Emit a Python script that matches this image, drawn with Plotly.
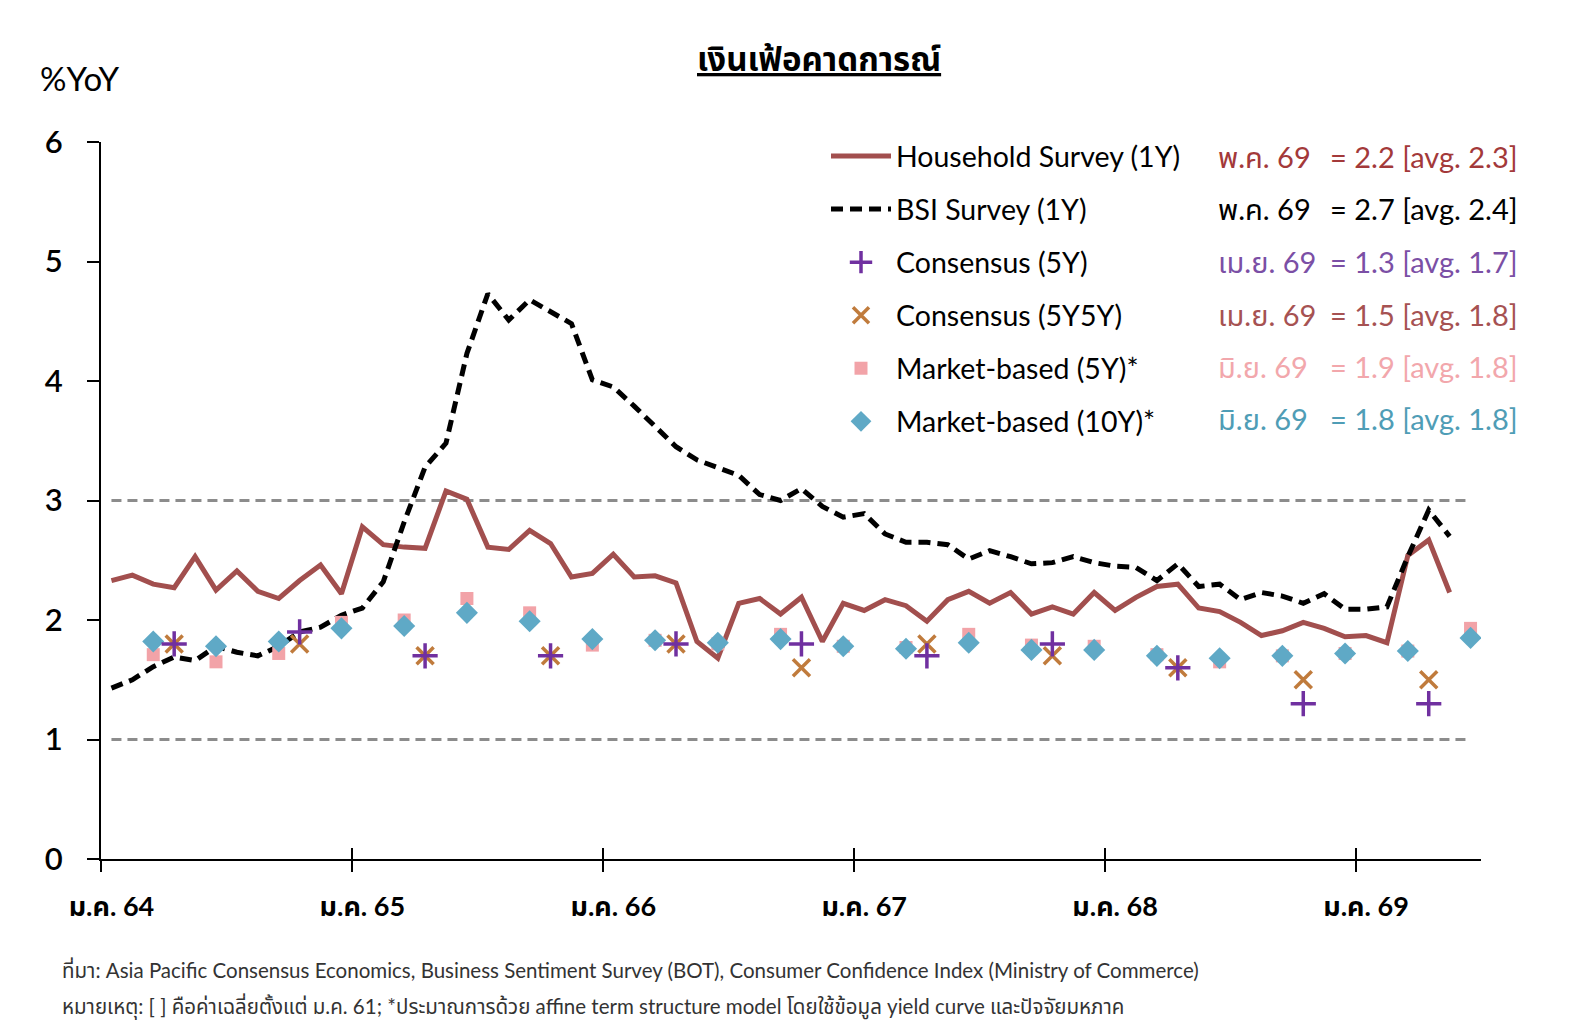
import plotly.graph_objects as go

# ---------------- data ----------------
# monthly index: 0 = ม.ค. 64 (Jan 2021)
household = [2.33, 2.375, 2.30, 2.27, 2.53, 2.25, 2.41, 2.24, 2.18, 2.33, 2.46, 2.22,
             2.78, 2.63, 2.61, 2.60, 3.08, 3.01, 2.61, 2.59, 2.75, 2.64, 2.36, 2.39,
             2.55, 2.36, 2.37, 2.31, 1.82, 1.68, 2.14, 2.18, 2.05, 2.19, 1.82, 2.14,
             2.08, 2.17, 2.12, 1.99, 2.17, 2.24, 2.14, 2.23, 2.05, 2.11, 2.05, 2.23,
             2.08, 2.19, 2.28, 2.30, 2.10, 2.07, 1.98, 1.87, 1.91, 1.98, 1.93, 1.86,
             1.87, 1.81, 2.54, 2.67, 2.23]
bsi = [1.43, 1.50, 1.61, 1.69, 1.66, 1.78, 1.73, 1.70, 1.78, 1.90, 1.94, 2.04,
       2.10, 2.32, 2.82, 3.28, 3.48, 4.23, 4.73, 4.51, 4.68, 4.58, 4.48, 4.01,
       3.95, 3.79, 3.62, 3.45, 3.34, 3.27, 3.21, 3.05, 3.00, 3.10, 2.95, 2.86,
       2.89, 2.72, 2.65, 2.65, 2.63, 2.51, 2.58, 2.53, 2.47, 2.48, 2.53, 2.48,
       2.45, 2.44, 2.33, 2.47, 2.28, 2.30, 2.17, 2.23, 2.20, 2.14, 2.22, 2.09,
       2.09, 2.11, 2.53, 2.92, 2.70]
monthly_idx = list(range(len(household)))

consensus_idx = [3, 9, 15, 21, 27, 33, 39, 45, 51, 57, 63]
consensus_5y = [1.8, 1.9, 1.7, 1.7, 1.8, 1.8, 1.7, 1.8, 1.6, 1.3, 1.3]
consensus_5y5y = [1.8, 1.8, 1.7, 1.7, 1.8, 1.6, 1.8, 1.7, 1.6, 1.5, 1.5]

market_idx = [2, 5, 8, 11, 14, 17, 20, 23, 26, 29, 32, 35, 38, 41, 44, 47, 50, 53, 56, 59, 62, 65]
market_5y = [1.71, 1.65, 1.72, 1.98, 2.00, 2.18, 2.06, 1.79, 1.83, 1.80, 1.88, 1.78,
             1.77, 1.88, 1.79, 1.78, 1.71, 1.65, 1.70, 1.72, 1.74, 1.93]
market_10y = [1.82, 1.78, 1.82, 1.93, 1.95, 2.06, 1.99, 1.84, 1.83, 1.81, 1.84, 1.78,
              1.76, 1.81, 1.75, 1.75, 1.70, 1.68, 1.70, 1.72, 1.74, 1.85]

target_x = [0, 65]
target_upper = [3, 3]
target_lower = [1, 1]

year_tick_idx = [0, 12, 24, 36, 48, 60]
year_tick_labels = ["ม.ค. 64", "ม.ค. 65", "ม.ค. 66", "ม.ค. 67", "ม.ค. 68", "ม.ค. 69"]
year_boundaries = [-0.5, 11.5, 23.5, 35.5, 47.5, 59.5]

series_names = ["Household Survey (1Y)", "BSI Survey (1Y)", "Consensus (5Y)",
                "Consensus (5Y5Y)", "Market-based (5Y)*", "Market-based (10Y)*"]
latest_dates = ["พ.ค. 69", "พ.ค. 69", "เม.ย. 69", "เม.ย. 69", "มิ.ย. 69", "มิ.ย. 69"]
latest_values = ["= 2.2 [avg. 2.3]", "= 2.7 [avg. 2.4]", "= 1.3 [avg. 1.7]",
                 "= 1.5 [avg. 1.8]", "= 1.9 [avg. 1.8]", "= 1.8 [avg. 1.8]"]

title_text = "เงินเฟ้อคาดการณ์"
footer_lines = [
    "ที่มา: Asia Pacific Consensus Economics, Business Sentiment Survey (BOT), Consumer Confidence Index (Ministry of Commerce)",
    "หมายเหตุ: [ ] คือค่าเฉลี่ยตั้งแต่ ม.ค. 61; *ประมาณการด้วย affine term structure model โดยใช้ข้อมูล yield curve และปัจจัยมหภาค",
]

# ---------------- styles ----------------
C_HH = "#A24F4E"
C_BSI = "#000000"
C_C5 = "#7030A0"
C_C55 = "#C07B3C"
C_M5 = "#F2A3A8"
C_M10 = "#5FA9C6"
label_colors = ["#A3393A", "#000000", "#7B4FA5", "#A65252", "#F2A7AC", "#4F9DB6"]
FONT = "Lato, 'Noto Sans Thai', 'Noto Sans', sans-serif"

L, R, T, B = 101, 101, 142, 175
W, H = 1582, 1034
PW, PH = W - L - R, H - T - B


def px_x(px):
    return (px - L) / PW


def px_y(py):
    return (H - B - py) / PH


fig = go.Figure()

for yy in (target_upper, target_lower):
    fig.add_trace(go.Scatter(x=target_x, y=yy, mode="lines", showlegend=False,
                             hoverinfo="skip",
                             line=dict(color="#8C8C8C", width=3, dash="10px,6px")))

fig.add_trace(go.Scatter(x=monthly_idx, y=household, mode="lines", name=series_names[0],
                         legendgroup="g1", legendrank=1,
                         line=dict(color=C_HH, width=5)))
fig.add_trace(go.Scatter(x=monthly_idx, y=bsi, mode="lines", name=series_names[1],
                         legendgroup="g2", legendrank=2,
                         line=dict(color=C_BSI, width=5, dash="12px,7px")))
fig.add_trace(go.Scatter(x=market_idx, y=market_5y, mode="markers", name=series_names[4],
                         legendgroup="g5", legendrank=5,
                         marker=dict(symbol="square", size=13, color=C_M5)))
fig.add_trace(go.Scatter(x=market_idx, y=market_10y, mode="markers", name=series_names[5],
                         legendgroup="g6", legendrank=6,
                         marker=dict(symbol="diamond", size=17, color=C_M10)))
fig.add_trace(go.Scatter(x=consensus_idx, y=consensus_5y5y, mode="markers", name=series_names[3],
                         legendgroup="g4", legendrank=4,
                         marker=dict(symbol="x-thin", size=17, color=C_C55,
                                     line=dict(color=C_C55, width=3.5))))
fig.add_trace(go.Scatter(x=consensus_idx, y=consensus_5y, mode="markers", name=series_names[2],
                         legendgroup="g3", legendrank=3,
                         marker=dict(symbol="cross-thin", size=18, color=C_C5,
                                     line=dict(color=C_C5, width=3.5))))

annotations = []
row_y = [156, 209, 261, 314, 366, 418]
for i in range(len(latest_dates)):
    annotations.append(dict(xref="paper", yref="paper", x=px_x(1216), y=px_y(row_y[i]),
                            xanchor="left", yanchor="middle", showarrow=False,
                            text=latest_dates[i],
                            font=dict(family=FONT, size=29, color=label_colors[i])))
    annotations.append(dict(xref="paper", yref="paper", x=px_x(1328), y=px_y(row_y[i]),
                            xanchor="left", yanchor="middle", showarrow=False,
                            text=latest_values[i],
                            font=dict(family=FONT, size=29, color=label_colors[i])))

annotations.append(dict(xref="paper", yref="paper", x=px_x(819), y=px_y(58),
                        xanchor="center", yanchor="middle", showarrow=False,
                        text="<u>" + title_text + "</u>",
                        font=dict(family=FONT, size=33, color="#000000", weight="bold")))
annotations.append(dict(xref="paper", yref="paper", x=px_x(38), y=px_y(78),
                        xanchor="left", yanchor="middle", showarrow=False,
                        text="%YoY",
                        font=dict(family=FONT, size=33, color="#000000")))
for j, (txt, yy) in enumerate(zip(footer_lines, [970, 1006])):
    annotations.append(dict(xref="paper", yref="paper", x=px_x(60), y=px_y(yy),
                            xanchor="left", yanchor="middle", showarrow=False,
                            text=txt,
                            font=dict(family=FONT, size=20.5, color="#333333")))

fig.update_layout(
    width=W, height=H,
    margin=dict(l=L, r=R, t=T, b=B, pad=0),
    paper_bgcolor="white", plot_bgcolor="white",
    font=dict(family=FONT, color="#000000"),
    showlegend=True,
    legend=dict(x=px_x(826), y=px_y(131), xanchor="left", yanchor="top",
                bgcolor="rgba(0,0,0,0)", borderwidth=0,
                font=dict(family=FONT, size=28.5, color="#000000"),
                tracegroupgap=13, itemwidth=60, traceorder="grouped"),
    annotations=annotations,
    xaxis=dict(range=[-0.5, 65.5], showgrid=False, zeroline=False,
               showline=True, linecolor="#000000", linewidth=2,
               tickmode="array", tickvals=year_tick_idx, ticktext=year_tick_labels,
               ticks="", ticklabelstandoff=23,
               tickfont=dict(family=FONT, size=27, color="#000000", weight="bold"),
               minor=dict(tickmode="array", tickvals=year_boundaries, ticks="outside",
                          ticklen=11, tickwidth=2, tickcolor="#000000", showgrid=False)),
    xaxis2=dict(range=[-0.5, 65.5], overlaying="x", anchor="y", side="bottom",
                showgrid=False, zeroline=False, showline=False,
                tickmode="array", tickvals=year_boundaries, ticks="inside",
                ticklen=11, tickwidth=2, tickcolor="#000000", showticklabels=False),
    yaxis=dict(range=[0, 6], showgrid=False, zeroline=False,
               showline=True, linecolor="#000000", linewidth=2,
               tickmode="array", tickvals=[0, 1, 2, 3, 4, 5, 6],
               ticks="outside", ticklen=12, tickwidth=2, tickcolor="#000000",
               ticklabelstandoff=18,
               tickfont=dict(family=FONT, size=31, color="#000000", weight=600)),
)

# invisible trace bound to xaxis2 so its ticks are rendered
fig.add_trace(go.Scatter(x=target_x, y=target_upper, xaxis="x2", yaxis="y",
                         mode="lines", line=dict(width=0), showlegend=False,
                         hoverinfo="skip", opacity=0))

fig.write_html("out.html")
